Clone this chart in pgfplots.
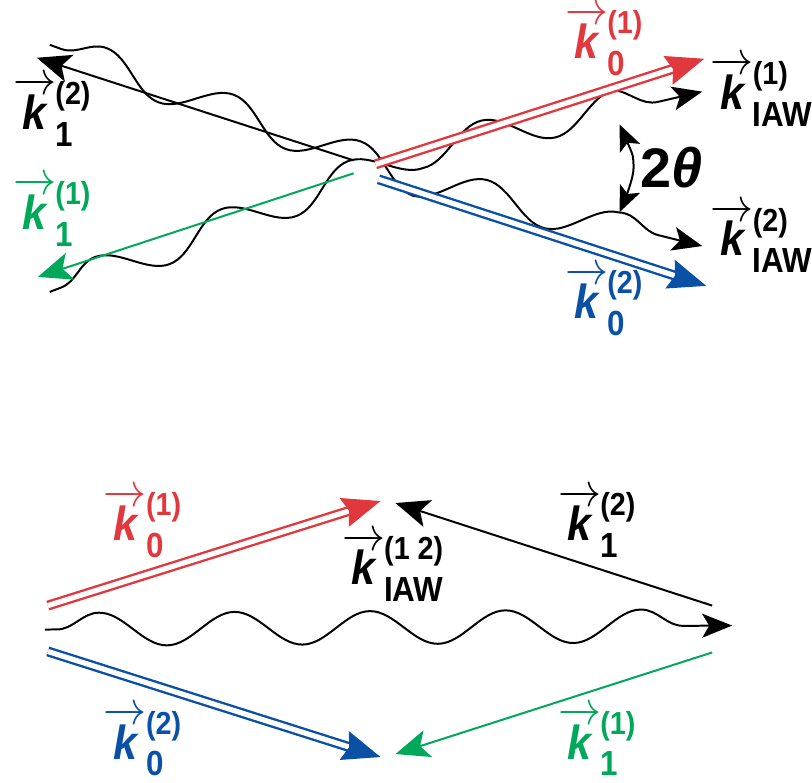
\RequirePackage{fix-cm}
\documentclass[border=0pt]{standalone}
\usepackage{amsmath}
\usepackage{fontspec}
\setmainfont{Liberation Sans}
\usepackage{pgfplots}
\pgfplotsset{compat=1.18}
\usetikzlibrary{arrows.meta,decorations.pathmorphing}
\definecolor{kred}{RGB}{225,56,62}
\definecolor{kblue}{RGB}{10,80,165}
\definecolor{kgreen}{RGB}{0,168,90}
\newsavebox\supbox \newsavebox\subbox \newlength\scrw
\newcommand\kv[2]{%
 \sbox\supbox{\fontsize{16}{16}\selectfont(#1)}%
 \sbox\subbox{\fontsize{17.5}{17.5}\selectfont #2}%
 \setlength\scrw{\wd\supbox}\ifdim\wd\subbox>\scrw\setlength\scrw{\wd\subbox}\fi
 \scalebox{0.9}[1]{$\overrightarrow{\text{\itshape k}}$\kern-0.5pt%
 \rlap{\raisebox{12.5pt}{\usebox\supbox}}\rlap{\raisebox{-8.5pt}{\usebox\subbox}}\hspace{\scrw}}}
\tikzset{
  wave/.style={black,line width=1pt,decorate,
     decoration={snake,amplitude=8.3pt,segment length=68pt,pre length=6pt,post length=16pt}},
  thin arrow/.style={line width=1pt,-{Stealth[length=17pt,width=14pt,inset=4pt]}},
  dbl arrow/.style={line width=1.2pt,double=white,double distance=2.6pt,
     -{Stealth[length=19pt,width=15pt,inset=2.5pt]}},
  lab/.style={font=\fontsize{24}{28}\selectfont\bfseries,inner sep=0pt,anchor=base west},
}
\begin{document}
\begin{tikzpicture}
\begin{axis}[x=0.5pt,y=0.5pt,y dir=reverse,xmin=0,xmax=812,ymin=0,ymax=786,
  hide axis,clip=false]
\path (axis cs:0,0) (axis cs:812,786);
% ---------- top diagram ----------
\addplot[wave,-{Stealth[length=15pt,width=12pt,inset=3.5pt]}] coordinates {(50,45) (385,168) (705,247)};
\addplot[wave,-{Stealth[length=15pt,width=12pt,inset=3.5pt]}] coordinates {(50,293) (385,166) (705,92)};
\addplot[black,thin arrow] coordinates {(355,161) (37,58)};
\addplot[kgreen,thin arrow] coordinates {(355,174) (38,278)};
\addplot[kred,dbl arrow] coordinates {(377,165) (707,59)};
\addplot[kblue,dbl arrow] coordinates {(380,180) (709,287)};
\addplot[black,line width=1pt,smooth,
  {Stealth[length=13pt,width=11pt,inset=3pt]}-{Stealth[length=13pt,width=11pt,inset=3pt]}]
  coordinates {(622,125) (636,169) (622,213)};
\node[font=\fontsize{28}{32}\selectfont\bfseries] at (axis cs:674,168) {2\textit{θ}};
\node[lab,text=black] at (axis cs:13,130) {\kv{2}{1}};
\node[lab,text=kgreen] at (axis cs:13,230) {\kv{1}{1}};
\node[lab,text=kred] at (axis cs:567,59) {\kv{1}{0}};
\node[lab,text=black] at (axis cs:713,110) {\kv{1}{IAW}};
\node[lab,text=black] at (axis cs:713,257) {\kv{2}{IAW}};
\node[lab,text=kblue] at (axis cs:567,320) {\kv{2}{0}};
% ---------- bottom diagram ----------
\addplot[wave,-{Stealth[length=15pt,width=12pt,inset=3.5pt]}] coordinates {(45,632) (735,628)};
\addplot[kred,dbl arrow] coordinates {(48,608) (382,503)};
\addplot[kblue,dbl arrow] coordinates {(48,654) (382,760)};
\addplot[black,thin arrow] coordinates {(715,608) (397,505)};
\addplot[kgreen,thin arrow] coordinates {(715,655) (397,757)};
\node[lab,text=kred] at (axis cs:104,543) {\kv{1}{0}};
\node[lab,text=black] at (axis cs:560,543) {\kv{2}{1}};
\node[lab,text=black] at (axis cs:343,587) {\kv{1 2}{IAW}};
\node[lab,text=kblue] at (axis cs:104,762) {\kv{2}{0}};
\node[lab,text=kgreen] at (axis cs:560,762) {\kv{1}{1}};
\end{axis}
\end{tikzpicture}
\end{document}
